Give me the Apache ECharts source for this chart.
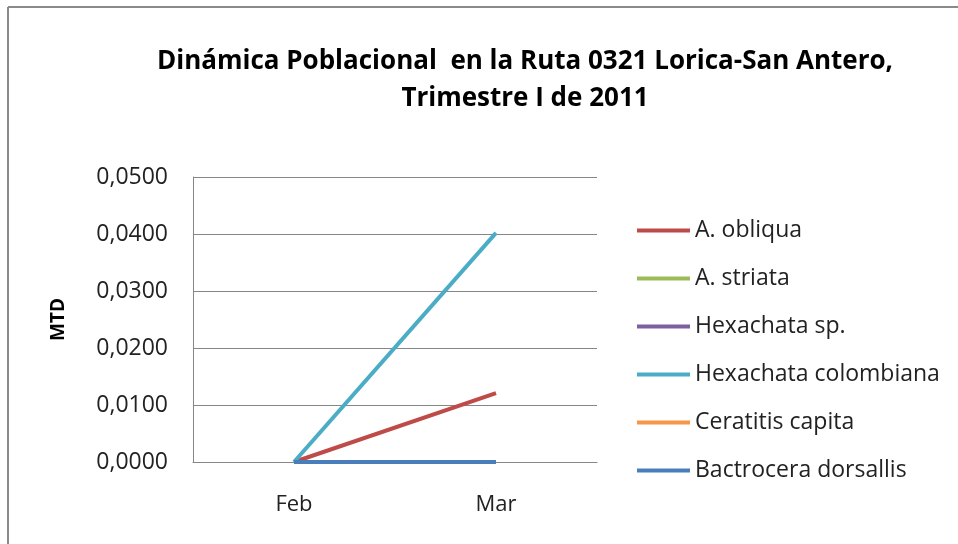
<!DOCTYPE html>
<html>
<head>
<meta charset="utf-8">
<script src="https://cdn.jsdelivr.net/npm/echarts@6/dist/echarts.min.js"></script>
<style>
  html, body { margin: 0; padding: 0; background: #fff; }
  #main { width: 958px; height: 544px; }
</style>
</head>
<body>
<div id="main"></div>
<script>
// datos
var meses = ["Feb", "Mar"];
var especies = ["A. obliqua", "A. striata", "Hexachata sp.", "Hexachata colombiana", "Ceratitis capita", "Bactrocera dorsallis"];
var aObliqua = [0, 0.0121];
var aStriata = [0, 0];
var hexachataSp = [0, 0];
var hexachataColombiana = [0, 0.0402];
var ceratitisCapita = [0, 0];
var bactroceraDorsallis = [0, 0];
var colores = ["#BE4B48", "#9BBB59", "#7D60A0", "#4BACC6", "#F79646", "#4A7EBB"];

var valores = [aObliqua, aStriata, hexachataSp, hexachataColombiana, ceratitisCapita, bactroceraDorsallis];
var fuente = "'Open Sans', 'Noto Sans', sans-serif";

var myChart = echarts.init(document.getElementById("main"));

var option = {
  color: colores,
  animation: false,
  title: {
    text: "Dinámica Poblacional  en la Ruta 0321 Lorica-San Antero,\nTrimestre I de 2011",
    left: 520,
    top: 38,
    textAlign: "center",
    textStyle: {
      fontFamily: fuente,
      fontSize: 26,
      fontWeight: "bold",
      color: "#000",
      lineHeight: 37
    }
  },
  graphic: [
    { type: "line", shape: { x1: 8, y1: 7, x2: 8, y2: 544 }, style: { stroke: "#8a8a8a", lineWidth: 2 } },
    { type: "line", shape: { x1: 8, y1: 7, x2: 958, y2: 7 }, style: { stroke: "#8a8a8a", lineWidth: 2 } }
  ],
  legend: {
    orient: "vertical",
    left: 632,
    top: 214,
    itemGap: 25,
    itemWidth: 53,
    itemHeight: 4,
    icon: "rect",
    data: especies,
    textStyle: { fontFamily: fuente, fontSize: 23, color: "#222" }
  },
  grid: {
    left: 193,
    right: 361,
    top: 177,
    bottom: 82
  },
  xAxis: {
    type: "category",
    data: meses,
    boundaryGap: true,
    axisTick: { show: false },
    axisLine: { lineStyle: { color: "#868686", width: 1 } },
    axisLabel: { fontFamily: fuente, fontSize: 22, color: "#222", margin: 32 }
  },
  yAxis: {
    type: "value",
    min: 0,
    max: 0.05,
    interval: 0.01,
    name: "MTD",
    nameLocation: "middle",
    nameGap: 125,
    nameTextStyle: { fontFamily: fuente, fontSize: 19, fontWeight: "bold", color: "#000" },
    axisLine: { show: true, lineStyle: { color: "#868686", width: 1 } },
    axisTick: { show: false },
    splitLine: { lineStyle: { color: "#868686", width: 1 } },
    axisLabel: {
      fontFamily: fuente,
      fontSize: 23,
      color: "#222",
      margin: 25,
      formatter: function (v) { return v.toFixed(4).replace(".", ","); }
    }
  },
  series: especies.map(function (n, i) {
    return {
      name: n,
      type: "line",
      symbol: "none",
      data: valores[i],
      lineStyle: { width: 4 }
    };
  })
};

myChart.setOption(option);
</script>
</body>
</html>
